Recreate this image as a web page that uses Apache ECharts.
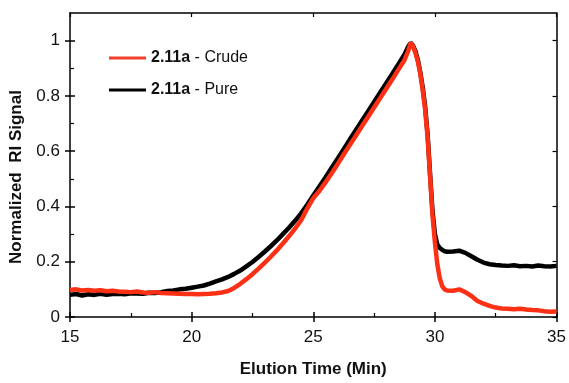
<!DOCTYPE html>
<html>
<head>
<meta charset="utf-8">
<script src="https://cdn.jsdelivr.net/npm/echarts@6/dist/echarts.min.js"></script>
<style>
html,body{margin:0;padding:0;background:#fff;}
#chart{width:569px;height:383px;}
</style>
</head>
<body>
<div id="chart"></div>
<script>
// Elution time (min)
var time = [15.0,15.25,15.5,15.75,16.0,16.25,16.5,16.75,17.0,17.25,17.5,17.75,18.0,18.25,18.5,18.75,19.0,19.25,19.5,19.75,
  20.0,20.25,20.5,20.75,21.0,21.25,21.5,21.75,22.0,22.25,22.5,22.75,23.0,23.25,23.5,23.75,24.0,24.25,24.5,24.75,
  25.0,25.25,25.5,25.75,26.0,26.25,26.5,26.75,27.0,27.25,27.5,27.75,28.0,28.25,28.5,28.75,28.9,29.0,29.1,29.2,
  29.3,29.4,29.5,29.6,29.7,29.8,29.9,30.0,30.1,30.2,30.3,30.4,30.5,30.75,31.0,31.25,31.5,31.75,32.0,32.25,
  32.5,32.75,33.0,33.25,33.5,33.75,34.0,34.25,34.5,34.75,35.0];

// 2.11a - Pure (black)
var pure = [0.080,0.083,0.078,0.082,0.080,0.084,0.080,0.083,0.084,0.082,0.086,0.085,0.084,0.088,0.087,0.090,0.094,0.096,0.100,0.102,
  0.106,0.110,0.114,0.121,0.129,0.136,0.145,0.156,0.168,0.183,0.199,0.217,0.236,0.256,0.277,0.300,0.323,0.348,0.375,0.406,
  0.440,0.472,0.505,0.539,0.573,0.607,0.642,0.676,0.710,0.744,0.778,0.812,0.846,0.880,0.915,0.950,0.978,0.992,0.982,0.962,
  0.930,0.885,0.830,0.760,0.660,0.520,0.385,0.300,0.262,0.250,0.243,0.238,0.236,0.237,0.240,0.232,0.220,0.207,0.197,0.191,
  0.188,0.186,0.185,0.187,0.184,0.185,0.183,0.186,0.184,0.183,0.185];

// 2.11a - Crude (red)
var crude = [0.098,0.100,0.096,0.098,0.095,0.097,0.093,0.095,0.092,0.091,0.090,0.092,0.089,0.088,0.090,0.087,0.086,0.085,0.084,0.083,
  0.083,0.082,0.083,0.084,0.086,0.089,0.094,0.105,0.120,0.137,0.155,0.175,0.196,0.218,0.241,0.266,0.292,0.320,0.350,0.392,
  0.430,0.456,0.487,0.519,0.553,0.588,0.622,0.656,0.690,0.724,0.758,0.792,0.826,0.860,0.895,0.930,0.962,0.992,0.980,0.955,
  0.925,0.880,0.820,0.750,0.650,0.510,0.370,0.270,0.190,0.140,0.112,0.100,0.096,0.095,0.100,0.090,0.076,0.058,0.048,0.040,
  0.034,0.031,0.030,0.028,0.030,0.027,0.025,0.024,0.021,0.019,0.020];

var seriesNames = ['2.11a - Crude', '2.11a - Pure'];
var xTicks = [15, 20, 25, 30, 35];
var xMinorTicks = [17.5, 22.5, 27.5, 32.5];
var yTicks = [0, 0.2, 0.4, 0.6, 0.8, 1];
var yMinorTicks = [0.1, 0.3, 0.5, 0.7, 0.9];
var xTitle = 'Elution Time (Min)';
var yTitle = 'Normalized  RI Signal';

function pairs(xs, ys) { return xs.map(function (x, i) { return [x, ys[i]]; }); }

var FONT = '"Liberation Sans", Arial, sans-serif';
var chart = echarts.init(document.getElementById('chart'));
var lineStyleAxis = { color: '#000', width: 1.5 };

chart.setOption({
  animation: false,
  backgroundColor: '#fff',
  grid: { left: 70, right: 12, top: 13, bottom: 63 },
  legend: {
    data: seriesNames,
    orient: 'vertical',
    left: 104, top: 44,
    icon: 'rect',
    itemWidth: 37, itemHeight: 3,
    itemGap: 14,
    textStyle: {
      fontFamily: FONT, fontSize: 16, color: '#111', lineHeight: 18,
      rich: { b: { fontFamily: FONT, fontSize: 16, fontWeight: 'bold', color: '#111', lineHeight: 18 } }
    },
    formatter: function (name) {
      var parts = name.split(' - ');
      return '{b|' + parts[0] + '} - ' + parts[1];
    }
  },
  xAxis: [
    { type: 'value', position: 'bottom', min: 15, max: 35,
      axisLine: { show: true, onZero: false, lineStyle: lineStyleAxis },
      axisTick: { show: true, inside: false, length: 5, lineStyle: { color: '#000', width: 1.5 }, customValues: xTicks },
      axisLabel: { show: true, margin: 12, fontFamily: FONT, fontSize: 17, color: '#111', customValues: xTicks },
      splitLine: { show: false },
      name: xTitle, nameLocation: 'middle', nameGap: 44,
      nameTextStyle: { fontFamily: FONT, fontSize: 17, fontWeight: 'bold', color: '#111' } },
    { type: 'value', position: 'bottom', min: 15, max: 35,
      axisLine: { show: false, onZero: false },
      axisTick: { show: true, inside: true, length: 5, lineStyle: { color: '#000', width: 1.5 }, customValues: xTicks },
      axisLabel: { show: false }, splitLine: { show: false } },
    { type: 'value', position: 'bottom', min: 15, max: 35,
      axisLine: { show: false, onZero: false },
      axisTick: { show: true, inside: true, length: 4, lineStyle: { color: '#000', width: 1.2 }, customValues: xMinorTicks },
      axisLabel: { show: false }, splitLine: { show: false } },
    { type: 'value', position: 'top', min: 15, max: 35,
      axisLine: { show: true, onZero: false, lineStyle: lineStyleAxis },
      axisTick: { show: true, inside: true, length: 4, lineStyle: { color: '#000', width: 1.2 }, customValues: xTicks },
      axisLabel: { show: false }, splitLine: { show: false } }
  ],
  yAxis: [
    { type: 'value', position: 'left', min: 0, max: 1.1,
      axisLine: { show: true, onZero: false, lineStyle: lineStyleAxis },
      axisTick: { show: true, inside: false, length: 5, lineStyle: { color: '#000', width: 1.5 }, customValues: yTicks },
      axisLabel: { show: true, margin: 10, fontFamily: FONT, fontSize: 17, color: '#111', customValues: yTicks },
      splitLine: { show: false },
      name: yTitle, nameLocation: 'middle', nameGap: 45,
      nameTextStyle: { fontFamily: FONT, fontSize: 17, fontWeight: 'bold', color: '#111', padding: [0, 24, 0, 0] } },
    { type: 'value', position: 'left', min: 0, max: 1.1,
      axisLine: { show: false, onZero: false },
      axisTick: { show: true, inside: true, length: 5, lineStyle: { color: '#000', width: 1.5 }, customValues: yTicks },
      axisLabel: { show: false }, splitLine: { show: false } },
    { type: 'value', position: 'left', min: 0, max: 1.1,
      axisLine: { show: false, onZero: false },
      axisTick: { show: true, inside: true, length: 4, lineStyle: { color: '#000', width: 1.2 }, customValues: yMinorTicks },
      axisLabel: { show: false }, splitLine: { show: false } },
    { type: 'value', position: 'right', min: 0, max: 1.1,
      axisLine: { show: true, onZero: false, lineStyle: lineStyleAxis },
      axisTick: { show: true, inside: true, length: 4, lineStyle: { color: '#000', width: 1.2 }, customValues: yTicks },
      axisLabel: { show: false }, splitLine: { show: false } }
  ],
  series: [
    { name: seriesNames[1], type: 'line', xAxisIndex: 0, yAxisIndex: 0,
      data: pairs(time, pure), showSymbol: false, symbol: 'none',
      lineStyle: { color: '#000', width: 4.5 }, itemStyle: { color: '#000' } },
    { name: seriesNames[0], type: 'line', xAxisIndex: 0, yAxisIndex: 0,
      data: pairs(time, crude), showSymbol: false, symbol: 'none',
      lineStyle: { color: '#fb3015', width: 4.5 }, itemStyle: { color: '#f0402c' } }
  ]
});
</script>
</body>
</html>
